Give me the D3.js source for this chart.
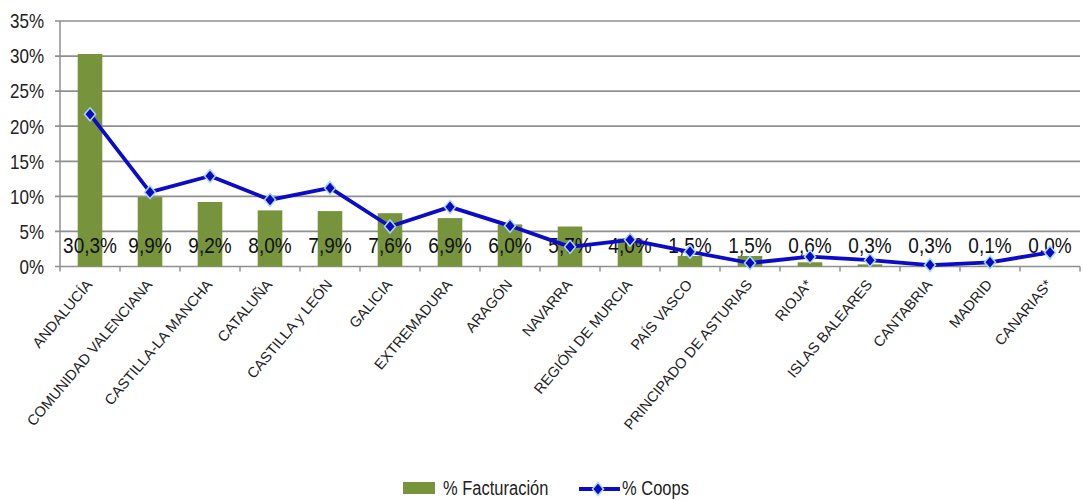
<!DOCTYPE html>
<html>
<head>
<meta charset="utf-8">
<script src="https://cdn.jsdelivr.net/npm/d3@7"></script>
<style>
  body { margin: 0; background: #fff; }
  text { font-family: "Liberation Sans", Arial, sans-serif; fill: #222; }
</style>
</head>
<body>
<svg id="chart" width="1083" height="500"></svg>
<script>
// values
const regions = ['ANDALUCÍA', 'COMUNIDAD VALENCIANA', 'CASTILLA-LA MANCHA', 'CATALUÑA',
  'CASTILLA y LEÓN', 'GALICIA', 'EXTREMADURA', 'ARAGÓN', 'NAVARRA', 'REGIÓN DE MURCIA',
  'PAÍS VASCO', 'PRINCIPADO DE ASTURIAS', 'RIOJA*', 'ISLAS BALEARES', 'CANTABRIA',
  'MADRID', 'CANARIAS*'];
const facturacion = [30.3, 9.9, 9.2, 8.0, 7.9, 7.6, 6.9, 6.0, 5.7, 4.0, 1.5, 1.5, 0.6, 0.3, 0.3, 0.1, 0.0];
const coops = [21.7, 10.6, 12.9, 9.5, 11.2, 5.7, 8.5, 5.8, 2.8, 3.8, 2.1, 0.5, 1.4, 0.9, 0.2, 0.6, 2.0];
const yTicks = [0, 5, 10, 15, 20, 25, 30, 35];

const svg = d3.select('#chart');
const plotL = 60, plotR = 1080, plotT = 21, plotB = 266.5;
// the source picture is stretched vertically, so text gets scaled too
const stretch = 1.2;

const x = d3.scaleBand().domain(regions).range([plotL, plotR]).padding(0);
const y = d3.scaleLinear().domain([0, 35]).range([plotB, plotT]);
const cx = d => x(d) + x.bandwidth() / 2;
const barW = x.bandwidth() * 0.41;

// grid + y labels
svg.append('g').selectAll('line')
  .data(yTicks)
  .join('line')
  .attr('x1', plotL - 5).attr('x2', plotR)
  .attr('y1', d => y(d)).attr('y2', d => y(d))
  .attr('stroke', '#8f8f8f').attr('stroke-width', 1.7);

svg.append('g').selectAll('text')
  .data(yTicks)
  .join('text')
  .attr('transform', d => `translate(44,${y(d)}) scale(1,${stretch})`)
  .attr('dy', '0.36em')
  .attr('text-anchor', 'end')
  .style('font-size', '17px')
  .text(d => d + '%');

// y axis line
svg.append('line')
  .attr('x1', plotL).attr('x2', plotL)
  .attr('y1', plotT).attr('y2', plotB)
  .attr('stroke', '#8f8f8f').attr('stroke-width', 1.5);

// x ticks
svg.append('g').selectAll('line')
  .data(regions.concat(['_end']))
  .join('line')
  .attr('x1', (d, i) => plotL + i * x.step()).attr('x2', (d, i) => plotL + i * x.step())
  .attr('y1', plotB).attr('y2', plotB + 5)
  .attr('stroke', '#8f8f8f').attr('stroke-width', 1.5);

// bars
svg.append('g').selectAll('rect')
  .data(regions)
  .join('rect')
  .attr('x', d => cx(d) - barW / 2)
  .attr('width', barW)
  .attr('y', (d, i) => y(facturacion[i]))
  .attr('height', (d, i) => plotB - y(facturacion[i]))
  .attr('fill', '#77933c');

// data labels
svg.append('g').selectAll('text')
  .data(regions)
  .join('text')
  .attr('transform', d => `translate(${cx(d)},253) scale(1,${stretch})`)
  .attr('text-anchor', 'middle')
  .style('font-size', '19px')
  .style('fill', '#111')
  .text((d, i) => facturacion[i].toFixed(1).replace('.', ',') + '%');

// coops line
const line = d3.line()
  .x((d, i) => cx(regions[i]))
  .y(d => y(d));

svg.append('path')
  .datum(coops)
  .attr('d', line)
  .attr('fill', 'none')
  .attr('stroke', '#0b0bc8')
  .attr('stroke-width', 3.8)
  .attr('stroke-linejoin', 'round');

const diamond = 'M0,-6.5L5.5,0L0,6.5L-5.5,0Z';
svg.append('g').selectAll('path')
  .data(coops)
  .join('path')
  .attr('transform', (d, i) => `translate(${cx(regions[i])},${y(d)})`)
  .attr('d', diamond)
  .attr('fill', '#0a0ac0')
  .attr('stroke', '#a9d8f5')
  .attr('stroke-width', 1.5);

// x labels
svg.append('g').selectAll('text')
  .data(regions)
  .join('text')
  .attr('transform', d => `translate(${cx(d) + 3},285) rotate(-50)`)
  .attr('text-anchor', 'end')
  .style('font-size', '14.6px')
  .text(d => d);

// legend
const lg = svg.append('g');
lg.append('rect')
  .attr('x', 403).attr('y', 482).attr('width', 32).attr('height', 12)
  .attr('fill', '#77933c');
lg.append('text')
  .attr('transform', `translate(443,495) scale(1,${stretch})`)
  .style('font-size', '16.5px')
  .text('% Facturación');
lg.append('line')
  .attr('x1', 579).attr('x2', 620).attr('y1', 489).attr('y2', 489)
  .attr('stroke', '#0b0bc8').attr('stroke-width', 3.8);
lg.append('path')
  .attr('transform', 'translate(598,489)')
  .attr('d', diamond)
  .attr('fill', '#0a0ac0')
  .attr('stroke', '#a9d8f5')
  .attr('stroke-width', 1.5);
lg.append('text')
  .attr('transform', `translate(622,495) scale(1,${stretch})`)
  .style('font-size', '16.5px')
  .text('% Coops');
</script>
</body>
</html>
